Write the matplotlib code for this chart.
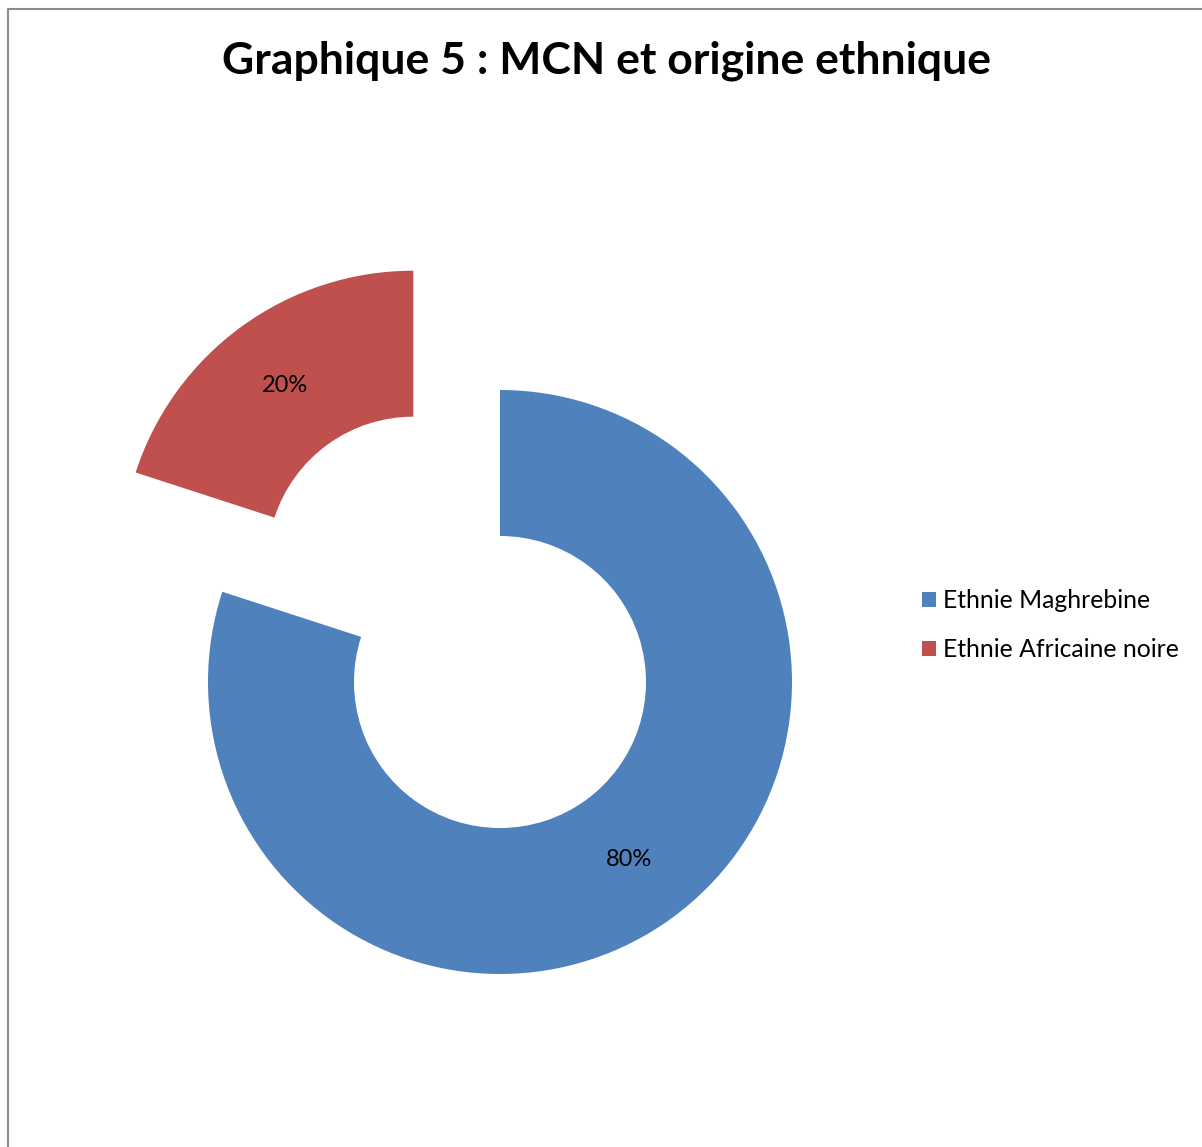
import matplotlib
matplotlib.use("Agg")
import matplotlib.pyplot as plt
from matplotlib.lines import Line2D
import numpy as np

plt.rcParams['font.family'] = ['Lato', 'DejaVu Sans']

labels = ["Ethnie Maghrebine", "Ethnie Africaine noire"]
values = [80, 20]
colors = ["#4F81BD", "#C0504D"]
explode_frac = [0, 0.505]

W, H = 1202, 1147
R = 292
fig = plt.figure(figsize=(W / 100, H / 100), dpi=100)
ax = fig.add_axes([0, 0, 1, 1])

# pie drawn in pixel units (y measured from the bottom)
wedges, texts = ax.pie(values, colors=colors,
                       explode=[e * R for e in explode_frac], startangle=90,
                       counterclock=False, radius=R, center=(500, H - 682),
                       wedgeprops=dict(width=R / 2, linewidth=0))
for w, v in zip(wedges, values):
    c = w.center
    ang = np.deg2rad((w.theta1 + w.theta2) / 2)
    ax.text(c[0] + 0.75 * R * np.cos(ang), c[1] + 0.75 * R * np.sin(ang), f"{v}%",
            ha="center", va="center", fontsize=17, color="black")

ax.set_xlim(0, W)
ax.set_ylim(0, H)
ax.set_aspect("equal")
ax.axis("off")

# chart frame (left and top edges visible)
ax.add_line(Line2D([7.5, 7.5, W], [0, H - 9, H - 9], color="#8c8c8c", lw=1.5))

fig.text(606 / W, 1 - 61 / H, "Graphique 5 : MCN et origine ethnique",
         ha="center", va="center", fontsize=32, fontweight="bold")

leg = ax.legend(wedges, labels, loc="upper left",
                bbox_to_anchor=(900 / W, 1 - 567 / H), frameon=False,
                fontsize=17.8, handlelength=0.57, handleheight=0.57,
                handletextpad=0.25, labelspacing=1.04)

fig.savefig("out.png", dpi=100)
